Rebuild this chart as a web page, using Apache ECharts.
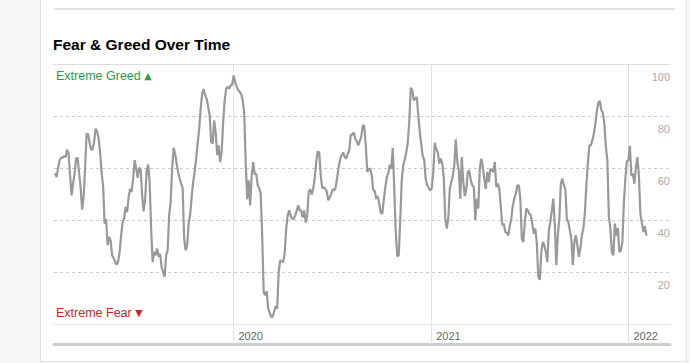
<!DOCTYPE html>
<html><head><meta charset="utf-8">
<script src="https://cdn.jsdelivr.net/npm/echarts@6/dist/echarts.min.js"></script>
<style>
html,body{margin:0;padding:0;width:690px;height:363px;overflow:hidden;background:#f6f6f6;}
#card{position:absolute;left:40px;top:-1px;width:647px;height:363px;background:#fff;border:1px solid #e3e3e3;box-sizing:border-box;}
#sep{position:absolute;left:54px;top:8px;width:621px;height:2px;background:#e3e3e3;}
#chart{position:absolute;left:0;top:0;width:690px;height:363px;}
</style></head><body>
<div id="card"></div><div id="sep"></div><div id="chart"></div>
<script>
// Fear & Greed index readings, one every stepDays days starting at startDate
const startDate = '2019-02-05';
const stepDays = 2.7774;
const values = [
  58, 56.5, 60, 63, 64, 63.9, 64.5, 64.2, 67, 65.5, 57, 49.5, 54, 57.8, 63.6, 64, 58, 52.7, 44, 48.8, 60, 73.2, 73, 69.7, 67, 67.2, 70, 75.1, 74, 71.3, 66, 58.2, 53, 38.6, 40.5, 30.3, 33.5, 32.2, 26.4, 25.4, 24, 22.8, 24, 27.7, 34, 39.2, 40.5, 45, 43, 48.8, 52, 50.8, 56, 63, 60, 56.2, 60, 59.7, 49.5, 43.3, 48, 58.8, 61.3, 54.6, 36.7,
  23.8,
  27.7, 26.4, 29, 25.8, 27, 21.9, 20, 18.1, 26.4, 28.2, 41.8, 46.9, 59.7, 67.8, 65.5, 61.7, 58.5, 55.9, 54, 52.3, 32.8, 28.3, 30.3, 38.6, 42, 48.8, 54.6, 58.5, 63.6, 69.4, 75, 82.8, 88.6, 90.3, 88, 86.7, 83.5, 80.3, 70, 69.4, 78.3, 73.8, 65, 68.7, 62.3, 66.2, 77.7, 86, 90.5, 91.2, 90.5, 91.8, 92, 95.6, 93, 91.2, 90, 89.2, 88.6, 86, 81.5, 62.3, 48, 55.3, 45.6,
  57,
  62.3, 57.6, 57.8, 53.3, 52.3, 50.1, 34, 12.3, 11, 12.6, 5.9, 4.4, 2.7, 2.7, 4.9, 6.9, 5.9, 20, 24.5, 24.1, 23.8, 27.4, 36.7, 41.8, 43.7, 41.5, 40.5, 40.3, 41.8, 43.5, 45.6, 43.7, 43.7, 41, 43.7, 39, 41.8, 51, 51.8, 49.7, 52, 56.2, 62.3, 66.4, 66, 57.2, 52.3, 52.6, 52, 51, 47.6, 48.7, 50, 51.8, 51.4, 52.7, 56.5, 60.4, 63.6, 64.9, 66, 64.2, 63.6,
  65.5,
  66.8, 72.8, 72.8, 73.6, 71.3, 70.3, 68.7, 70.3, 72, 76.4, 76.2, 68.7, 58.5, 59.7, 59.7, 57.2, 51.4, 51.2, 48.2, 49.1, 46.3, 42.7, 42.4, 47.6, 52.3, 56.3, 57.8, 61.3, 59.7, 67.7, 52, 35.6, 26, 26.4, 40.5, 55.3, 61, 63.3, 66, 69.6, 77.7, 90.8, 90, 86, 86.7, 87.3, 80.3, 74.2, 69, 64.6, 63, 55.5, 53.3, 52.3, 51.4, 52.3, 58.5, 69.7, 67.2, 66.2, 61.7, 63.6, 61.7, 56.5, 40.5,
  36.7,
  40.5, 52, 54.6, 56.9, 61, 71, 62.3, 59.1, 48.2, 64.2, 54.6, 49.2, 52, 58.5, 59, 55.3, 53.3, 52.7, 40, 48.2, 44.4, 59.7, 63.6, 60.4, 55.9, 52, 58.5, 54.6, 59.7, 59.1, 58.5, 62.3, 52.7, 54, 52, 45, 38, 38.6, 35.4, 35.1, 34, 37.9, 40.5, 45.6, 48.2, 50.1, 53.3, 53.3, 48.2, 32.8, 31.5, 39.2, 44.4, 43.7, 42.4, 41.8, 38.6, 34.7, 36.7, 30.9, 18, 17, 27.7, 31.5, 30.3,
  27.7,
  23.8, 36, 39.2, 43.7, 48.2, 37.9, 22.6, 34.1, 40.5, 54, 55.9, 53.3, 52, 40.5, 39.2, 36, 32.8, 22.6, 31.5, 34.1, 30.3, 25.8, 29, 34.1, 36.7, 42.4, 53.3, 61.7, 68.7, 68.7, 70.6, 73.2, 77, 81.9, 85, 85.8, 82.2, 81.3, 77, 68.1, 63, 41.4, 36.7, 27.7, 26.4, 38.6, 34, 36.9, 27.7, 28.3, 31.5, 46.7, 55.9, 62.7, 63, 68.5, 57, 57.8, 54, 60.4, 64.2, 57.2, 42.4, 38.8, 35.4, 37.6, 34
];
const yearTicks = ['2020-01-01', '2021-01-01', '2022-01-01'];
const axisStart = '2019-02-03';
const axisEnd = '2022-03-19';
const yMin = 0, yMax = 100, yStep = 20;

const toTime = s => new Date(s + 'T00:00:00').getTime();
const t0 = toTime(startDate);
const DAY = 86400000;
const seriesData = values.map((v, i) => [t0 + i * stepDays * DAY, v]);
const yearTimes = yearTicks.map(toTime);
const xMin = toTime(axisStart), xMax = toTime(axisEnd);

const chart = echarts.init(document.getElementById('chart'), null, {renderer: 'svg'});
const font = 'Liberation Sans, Arial, sans-serif';
const plainX = (extra) => Object.assign({type: 'value', min: xMin, max: xMax,
  axisTick: {show: false}, axisLabel: {show: false}, splitLine: {show: false}}, extra);
chart.setOption({
  animation: false,
  title: [
    {text: 'Fear & Greed Over Time', left: 53, top: 36, padding: 0,
     textStyle: {fontFamily: font, fontWeight: 'bold', fontSize: 15.5, color: '#000'}},
    {text: 'Extreme Greed {t|▲}', left: 56, top: 69, padding: 0,
     textStyle: {fontFamily: font, fontWeight: 'normal', fontSize: 12.5, color: '#2b9a4a',
       rich: {t: {fontSize: 9.5, color: '#2b9a4a', fontFamily: 'DejaVu Sans'}}}},
    {text: 'Extreme Fear {t|▼}', left: 56, top: 306, padding: 0,
     textStyle: {fontFamily: font, fontWeight: 'normal', fontSize: 12.5, color: '#c8262f',
       rich: {t: {fontSize: 9.5, color: '#c8262f', fontFamily: 'DejaVu Sans'}}}}
  ],
  grid: {left: 54, right: 20, top: 64, bottom: 39, containLabel: false},
  xAxis: [
    {type: 'value', min: xMin, max: xMax, position: 'bottom',
     axisLine: {show: true, lineStyle: {color: '#e3e3e3', width: 1}},
     axisTick: {show: true, customValues: yearTimes, length: 20, inside: false, lineStyle: {color: '#e3e3e3'}},
     axisLabel: {show: true, customValues: yearTimes, formatter: v => String(new Date(v).getFullYear()),
       align: 'left', padding: [0, 0, 0, 5], margin: 6, color: '#666', fontSize: 11, fontFamily: font},
     splitLine: {show: true, lineStyle: {color: '#e3e3e3', width: 1}}},
    plainX({position: 'bottom', offset: 20, axisLine: {show: true, lineStyle: {color: '#cdcdcd', width: 3}}}),
    plainX({position: 'top', axisLine: {show: true, lineStyle: {color: '#dcdcdc', width: 1}}})
  ],
  yAxis: {
    type: 'value', min: yMin, max: yMax, interval: yStep, position: 'right',
    axisLine: {show: false}, axisTick: {show: false},
    axisLabel: {inside: true, showMinLabel: false, margin: 0, align: 'right', verticalAlign: 'top',
      padding: [7, 0, 0, 0], color: '#aaa', fontSize: 11, fontFamily: font},
    splitLine: {show: true, lineStyle: {type: [3, 3], color: '#c8c8c8', width: 1}}
  },
  series: [{
    type: 'line', xAxisIndex: 0, data: seriesData, showSymbol: false, symbol: 'none',
    lineStyle: {color: '#999999', width: 2.2}, z: 5
  }]
});
</script>
</body></html>
